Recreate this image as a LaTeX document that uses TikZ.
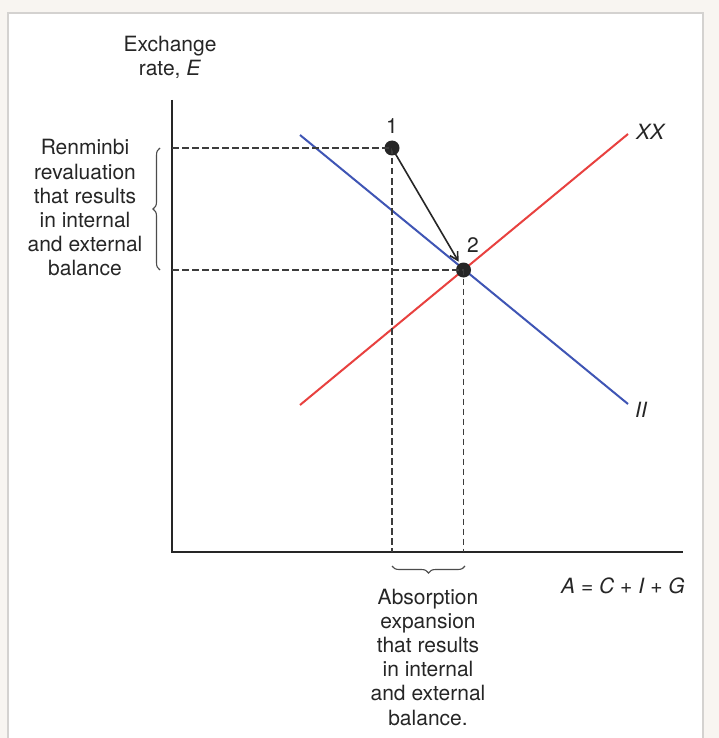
\documentclass[tikz,border=0pt]{standalone}
\usepackage{fontspec}
\setmainfont{TeX Gyre Heros}
\usetikzlibrary{decorations.pathreplacing,arrows.meta}
\definecolor{outerbg}{HTML}{F8F5F1}
\definecolor{panelline}{HTML}{D4D2D0}
\definecolor{iiblue}{HTML}{3F55B5}
\definecolor{xxred}{HTML}{E8413F}
\definecolor{dashgray}{HTML}{3C3C3C}
\begin{document}
\begin{tikzpicture}[x=1pt,y=-1pt,
  lbl/.style={font=\fontsize{21}{24.2}\selectfont, align=center, inner sep=0pt, text=black!85},
  axis/.style={line width=2pt, black!85},
  guide/.style={dashgray, line width=1.3pt, dash pattern=on 6.5pt off 3.5pt},
  dot/.style={circle, fill=black!85, minimum size=15pt, inner sep=0pt},
  curve/.style={line width=2pt},
  bracebox/.style={decorate, decoration={brace, amplitude=7pt}, line width=1.1pt, black!70}]
\useasboundingbox (0,0) rectangle (719,738);
\fill[outerbg] (0,0) rectangle (719,738);
\draw[panelline, fill=white, line width=1.2pt] (8,745) -- (8,13) -- (703,13) -- (703,745);
% axes
\coordinate (O) at (172,552);
\coordinate (ytop) at (172,100);
\coordinate (xend) at (683,552);
\draw[axis] (ytop) -- (O) -- (xend);
% curves
\coordinate (b1) at (300,135);
\coordinate (b2) at (628,404);
\coordinate (r1) at (300,405);
\coordinate (r2) at (628,134);
\draw[curve, iiblue] (b1) -- (b2);
\draw[curve, xxred] (r1) -- (r2);
% points
\node[dot] (p1) at (392,148) {};
\node[dot] (p2) at (463.5,270) {};
\coordinate (e1) at (172,148);
\coordinate (e2) at (172,270);
\coordinate (a1) at (392,552);
\coordinate (a2) at (463.5,552);
\draw[guide] (e1) -- (p1.center) -- (a1);
\draw[guide] (e2) -- (p2.center) -- (a2);
\draw[line width=1.6pt, black!85, -{Straight Barb[length=8pt,width=9pt,line width=1.6pt]}, shorten >=2pt] (p1.center) -- (p2);
% labels
\node[lbl] (l1) at (392,126) {1};
\node[lbl] (l2) at (473,245) {2};
\node[lbl, font=\fontsize{21}{24.2}\selectfont\itshape] (lxx) at (650,132) {XX};
\node[lbl, font=\fontsize{21}{24.2}\selectfont\itshape] (lii) at (641,410) {II};
\node[lbl] (ylab) at (170,57) {Exchange\\rate, \textit{E}};
\node[lbl] (xlab) at (623,586) {\textit{A} = \textit{C} + \textit{I} + \textit{G}};
% braces
\coordinate (bl1) at (160,270);
\coordinate (bl2) at (160,148);
\draw[bracebox] (bl1) -- (bl2);
\coordinate (bb1) at (465,566);
\coordinate (bb2) at (392,566);
\draw[bracebox] (bb1) -- (bb2);
\node[lbl] (leftnote) at (85,208) {Renminbi\\revaluation\\that results\\in internal\\and external\\balance};
\node[lbl] (botnote) at (428,657) {Absorption\\expansion\\that results\\in internal\\and external\\balance.};
\end{tikzpicture}
\end{document}
